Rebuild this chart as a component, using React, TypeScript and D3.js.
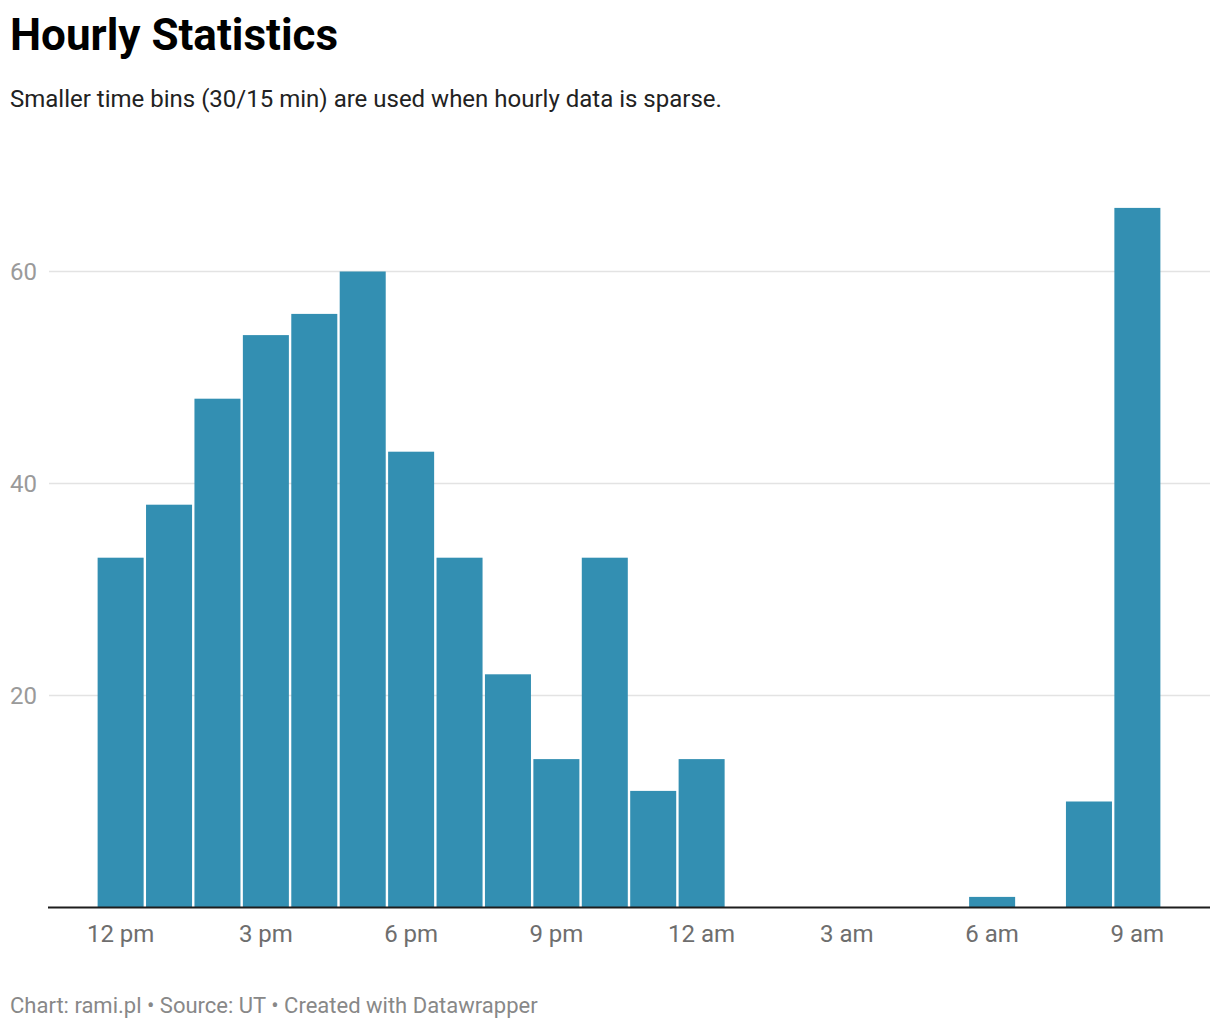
import { useEffect, useRef } from 'react';
import * as d3 from 'd3';

// hourly bins, hour-of-day counted from midnight of the first day
const hours = [12, 13, 14, 15, 16, 17, 18, 19, 20, 21, 22, 23, 24, 25, 26, 27, 28, 29, 30, 31, 32, 33];
const counts = [33, 38, 48, 54, 56, 60, 43, 33, 22, 14, 33, 11, 14, 0, 0, 0, 0, 0, 1, 0, 10, 66];

const xTicks = [12, 15, 18, 21, 24, 27, 30, 33];
const xTickLabels = ['12 pm', '3 pm', '6 pm', '9 pm', '12 am', '3 am', '6 am', '9 am'];
const yTicks = [20, 40, 60];

const title = 'Hourly Statistics';
const subtitle = 'Smaller time bins (30/15 min) are used when hourly data is sparse.';
const footer = 'Chart: rami.pl \u2022 Source: UT \u2022 Created with Datawrapper';

const W = 1220;
const H = 1030;
const FONT = 'Roboto, "Noto Sans", sans-serif';

export default function App() {
  const svgRef = useRef<SVGSVGElement>(null);

  useEffect(() => {
    if (!svgRef.current) return;
    const svg = d3.select(svgRef.current);
    svg.selectAll('*').remove();

    const left = 48;
    const right = 1210;
    const baseline = 907.5;

    const x = d3.scaleLinear().domain([10.5, 34.5]).range([left, right]);
    const y = d3.scaleLinear().domain([0, 60]).range([baseline, 271.5]);

    // Header
    svg.append('text')
      .attr('x', 10)
      .attr('y', 50)
      .attr('font-family', FONT)
      .attr('font-weight', 700)
      .attr('font-size', 44)
      .attr('fill', '#000')
      .text(title);

    svg.append('text')
      .attr('x', 10)
      .attr('y', 107)
      .attr('font-family', FONT)
      .attr('font-size', 24)
      .attr('fill', '#222')
      .text(subtitle);

    // Gridlines + y labels
    const grid = svg.append('g');
    grid.selectAll('line')
      .data(yTicks)
      .enter()
      .append('line')
      .attr('x1', 49)
      .attr('x2', right)
      .attr('y1', d => y(d))
      .attr('y2', d => y(d))
      .attr('stroke', '#e3e3e3')
      .attr('stroke-width', 1.5);

    grid.selectAll('text')
      .data(yTicks)
      .enter()
      .append('text')
      .attr('x', 10)
      .attr('y', d => y(d) + 8.5)
      .attr('font-family', FONT)
      .attr('font-size', 24)
      .attr('fill', '#9a9a9a')
      .text(d => d);

    // Bars
    const inset = 1.2;
    svg.append('g')
      .selectAll('rect')
      .data(hours.map((h, i) => ({ h, v: counts[i] })).filter(d => d.v > 0))
      .enter()
      .append('rect')
      .attr('x', d => x(d.h - 0.5) + inset)
      .attr('width', d => x(d.h + 0.5) - x(d.h - 0.5) - inset * 2)
      .attr('y', d => y(d.v))
      .attr('height', d => baseline - y(d.v))
      .attr('fill', '#338fb2');

    // X axis
    svg.append('line')
      .attr('x1', left)
      .attr('x2', right)
      .attr('y1', baseline)
      .attr('y2', baseline)
      .attr('stroke', '#1d1d1d')
      .attr('stroke-width', 2);

    svg.append('g')
      .selectAll('text')
      .data(xTicks)
      .enter()
      .append('text')
      .attr('x', d => x(d))
      .attr('y', 942)
      .attr('text-anchor', 'middle')
      .attr('font-family', FONT)
      .attr('font-size', 24)
      .attr('fill', '#6e6e6e')
      .text((_, i) => xTickLabels[i]);

    // Footer
    svg.append('text')
      .attr('x', 10)
      .attr('y', 1013)
      .attr('font-family', FONT)
      .attr('font-size', 22)
      .attr('fill', '#888')
      .text(footer);
  }, []);

  return (
    <svg
      ref={svgRef}
      width={W}
      height={H}
      style={{ position: 'absolute', left: 0, top: 0, display: 'block', background: '#fff' }}
    />
  );
}
